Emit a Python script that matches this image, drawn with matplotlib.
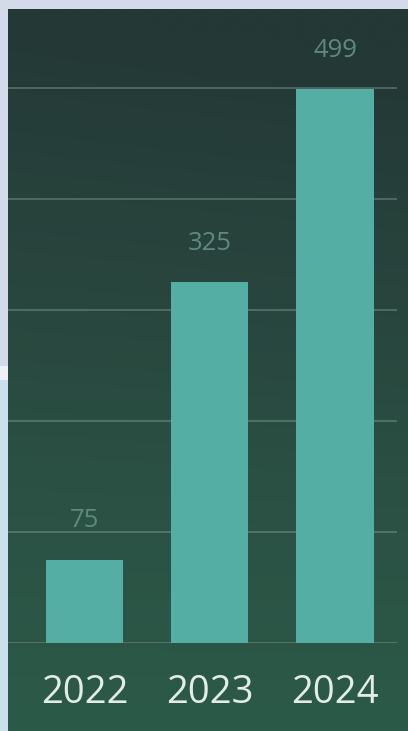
import numpy as np
import matplotlib
matplotlib.use('Agg')
import matplotlib.pyplot as plt
from matplotlib.colors import LinearSegmentedColormap

years = ['2022', '2023', '2024']
counts = [75, 325, 499]
grid_ticks = [0, 100, 200, 300, 400, 500]

W, H = 408, 731
fig = plt.figure(figsize=(W / 100, H / 100), dpi=100)

# page background and dark panel
bg = fig.add_axes([0, 0, 1, 1])
bg.add_patch(plt.Rectangle((0, 0), W, 366, color='#d3dbea', lw=0, zorder=0))
bg.add_patch(plt.Rectangle((0, 366), W, 14, color='#eef2f8', lw=0, zorder=0))
bg.add_patch(plt.Rectangle((0, 380), W, H - 380, color='#cbe0ed', lw=0, zorder=0))

panel_cmap = LinearSegmentedColormap.from_list(
    'panel', ['#243836', '#28443d', '#2b5144', '#2c5a48'])
yy = np.linspace(0, 1, 256).reshape(-1, 1)
xx = np.linspace(0, 1, 64).reshape(1, -1)
grad = yy - 0.08 * (1 - yy) * xx
bg.imshow(grad, cmap=panel_cmap, extent=[8, W, H, 9], aspect='auto',
          vmin=0, vmax=1, interpolation='bicubic', zorder=2)
bg.set_xlim(0, W)
bg.set_ylim(H, 0)
bg.axis('off')

# chart axes
left, right, top, bottom = 8, 397, 9, 643
px_per_unit = 1.11
ax = fig.add_axes([left / W, (H - bottom) / H, (right - left) / W, (bottom - top) / H])
ax.patch.set_alpha(0)

x = np.arange(len(years))
step = 125.25
ax.set_xlim((left - 84.5) / step, (right - 84.5) / step)
ax.set_ylim(0, (bottom - top) / px_per_unit)

for g in grid_ticks:
    ax.axhline(g, color='#8aa89e', alpha=0.4, lw=1.4, zorder=1)

ax.bar(x, counts, width=0.615, color='#55aea4', zorder=2)

for xi, v in zip(x, counts):
    ax.annotate(str(v), xy=(xi, v), xytext=(0, 28), textcoords='offset points',
                ha='center', va='center', fontsize=18.5, color='#5f897f',
                family='Open Sans')

ax.set_xticks(x)
ax.set_xticklabels(years, fontsize=27.5, color='#e2ece9', family='Open Sans')
ax.tick_params(axis='x', length=0, pad=22)
ax.set_yticks([])
for s in ax.spines.values():
    s.set_visible(False)

fig.savefig('out.png', dpi=100)
